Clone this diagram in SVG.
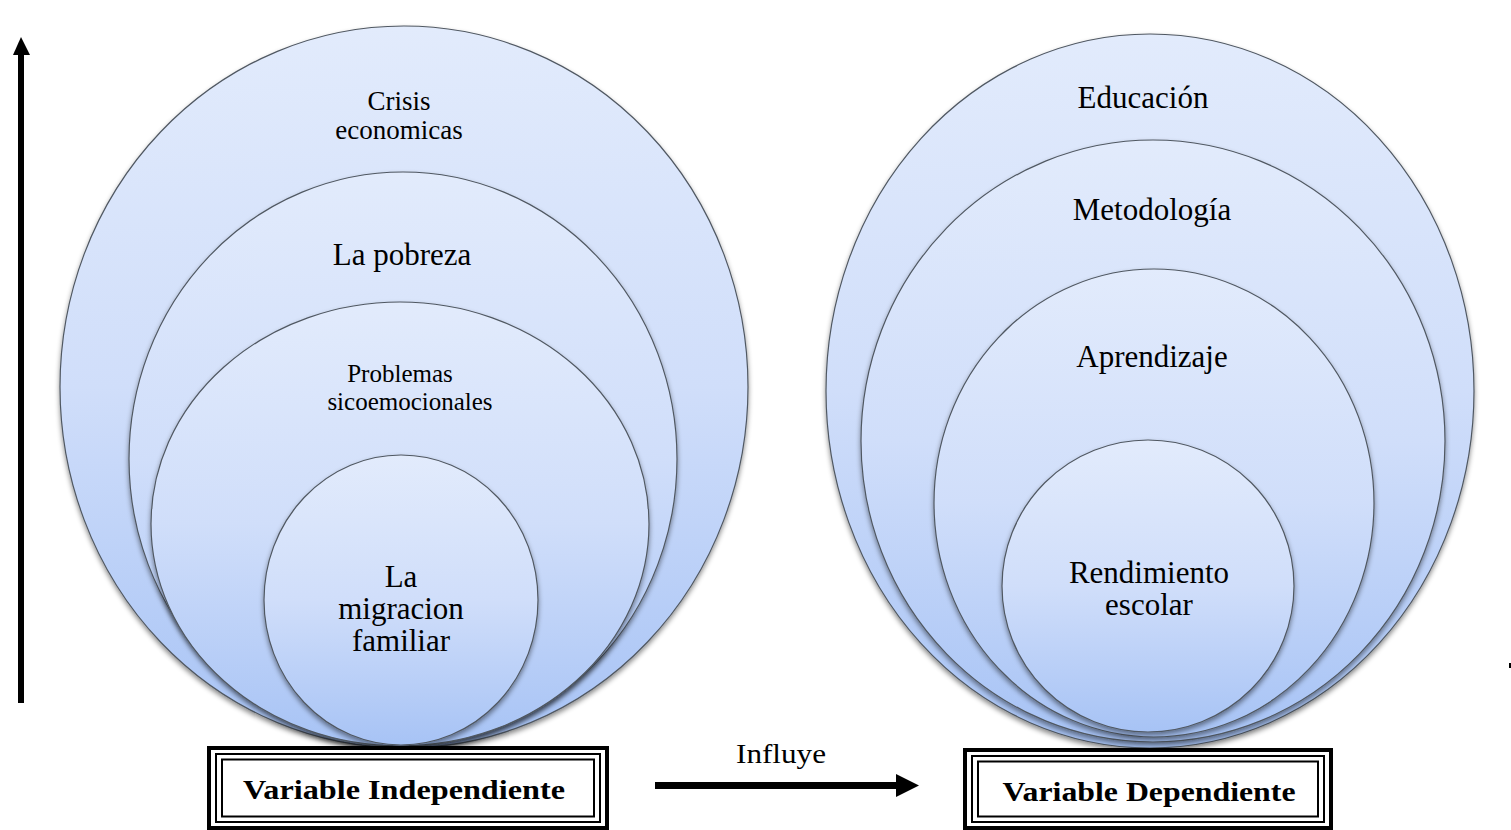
<svg xmlns="http://www.w3.org/2000/svg" width="1511" height="830" viewBox="0 0 1511 830">
<style>
  .ell { fill: url(#blueGrad); stroke: #505862; stroke-width: 1.2; filter: url(#shadow); }
  .t { font-family: "Liberation Serif", "Times New Roman", serif; fill: #000; text-anchor: middle; }
  .b { font-family: "Liberation Serif", "Times New Roman", serif; font-weight: bold; fill: #000; text-anchor: middle; }
  .frame-o { fill: #fff; stroke: #000; stroke-width: 4; }
  .frame-i { fill: none; stroke: #000; stroke-width: 2; }
</style>
<defs>
  <linearGradient id="blueGrad" x1="0" y1="0" x2="0" y2="1">
    <stop offset="0" stop-color="#e2ebfc"/>
    <stop offset="0.5" stop-color="#d0defa"/>
    <stop offset="1" stop-color="#a7c3f5"/>
  </linearGradient>
  <filter id="shadow" x="-10%" y="-10%" width="120%" height="125%">
    <feDropShadow dx="0" dy="3" stdDeviation="2.5" flood-color="#000" flood-opacity="0.45"/>
  </filter>
  <marker id="arrowHead" markerWidth="4" markerHeight="4" refX="0" refY="2" orient="auto" markerUnits="strokeWidth">
    <path d="M0,0 L4,2 L0,4 z" fill="#000"/>
  </marker>
</defs>
<rect width="1511" height="830" fill="#fff"/>

<g id="left-stack">
  <g id="crisis"><ellipse class="ell" cx="404" cy="387" rx="344" ry="361"/>
    <text class="t" x="399" y="110" font-size="27">Crisis</text>
    <text class="t" x="399" y="139" font-size="27">economicas</text></g>
  <g id="pobreza"><ellipse class="ell" cx="403" cy="459" rx="274" ry="287"/>
    <text class="t" x="402" y="265" font-size="31">La pobreza</text></g>
  <g id="problemas"><ellipse class="ell" cx="400" cy="524" rx="249" ry="222"/>
    <text class="t" x="400" y="382" font-size="25">Problemas</text>
    <text class="t" x="410" y="410" font-size="25">sicoemocionales</text></g>
  <g id="migracion"><ellipse class="ell" cx="401" cy="600" rx="137" ry="145"/>
    <text class="t" x="401" y="587" font-size="31">La</text>
    <text class="t" x="401" y="619" font-size="31">migracion</text>
    <text class="t" x="401" y="651" font-size="31">familiar</text></g>
</g>

<g id="right-stack">
  <g id="educacion"><ellipse class="ell" cx="1150" cy="391" rx="324" ry="357"/>
    <text class="t" x="1143" y="108" font-size="31">Educación</text></g>
  <g id="metodologia"><ellipse class="ell" cx="1153" cy="441" rx="292" ry="301"/>
    <text class="t" x="1152" y="220" font-size="31">Metodología</text></g>
  <g id="aprendizaje"><ellipse class="ell" cx="1154" cy="503" rx="220" ry="234"/>
    <text class="t" x="1152" y="367" font-size="31">Aprendizaje</text></g>
  <g id="rendimiento"><ellipse class="ell" cx="1148" cy="586" rx="146" ry="146"/>
    <text class="t" x="1149" y="583" font-size="31">Rendimiento</text>
    <text class="t" x="1149" y="615" font-size="31">escolar</text></g>
</g>

<g id="box-independiente">
  <rect class="frame-o" x="209" y="748" width="398" height="80"/>
  <rect class="frame-i" x="216" y="754" width="384" height="68"/>
  <rect class="frame-i" x="222" y="759.5" width="372" height="57"/>
  <text class="b" x="404" y="799" font-size="28" textLength="322" lengthAdjust="spacingAndGlyphs">Variable Independiente</text>
</g>

<g id="box-dependiente">
  <rect class="frame-o" x="965" y="750" width="366" height="78"/>
  <rect class="frame-i" x="972" y="756" width="352" height="66"/>
  <rect class="frame-i" x="978" y="761.5" width="340" height="55"/>
  <text class="b" x="1149" y="801" font-size="28" textLength="293" lengthAdjust="spacingAndGlyphs">Variable Dependiente</text>
</g>

<g id="connectors">
  <rect x="18" y="54" width="6" height="649" fill="#000"/>
  <polygon points="13,55 21,37 30,55" fill="#000"/>
  <rect x="655" y="782" width="243" height="7" fill="#000"/>
  <polygon points="896,774 919,785.5 896,797" fill="#000"/>
  <text class="t" x="781" y="763" font-size="27" textLength="90" lengthAdjust="spacingAndGlyphs">Influye</text>
  <rect x="1509" y="663" width="2" height="5" fill="#000"/>
</g>
</svg>
